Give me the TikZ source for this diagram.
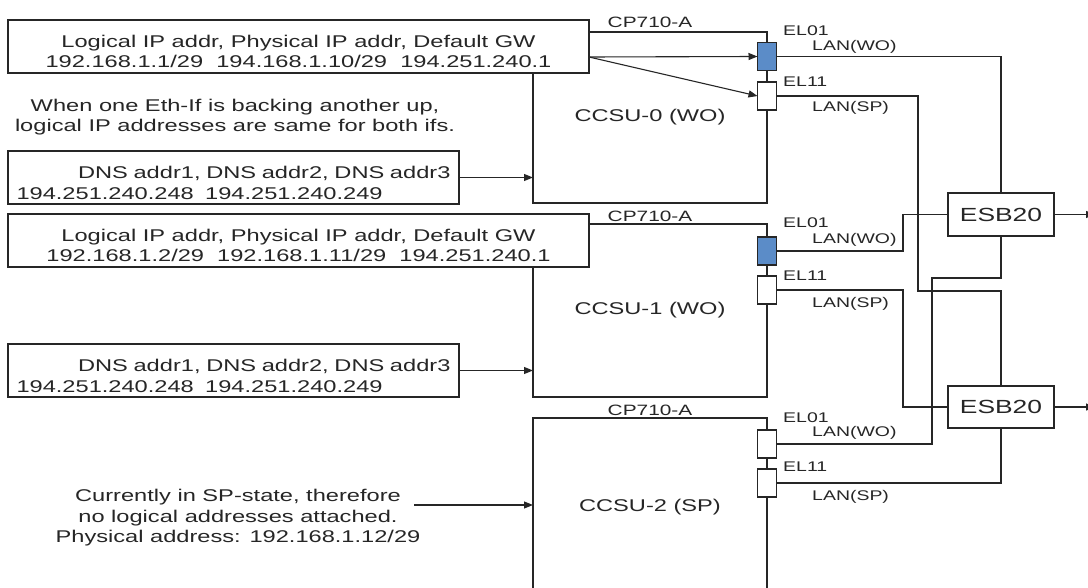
\documentclass[tikz,border=0pt]{standalone}
\usepackage{fontspec}
\setmainfont{Liberation Sans}[FakeStretch=1.39]
\usetikzlibrary{arrows.meta}
\definecolor{elblue}{HTML}{5B8CC8}
\definecolor{ink}{HTML}{262626}
\begin{document}
\begin{tikzpicture}[x=1pt,y=-1pt,
  every node/.style={text=ink},
  ln/.style={draw=ink, line width=1.1pt},
  box/.style={ln, fill=white, inner sep=0pt, outer sep=0pt},
  main/.style={font=\fontsize{17}{20.5}\selectfont},
  small/.style={font=\fontsize{14}{16}\selectfont, inner sep=0pt, anchor=west},
  cplab/.style={font=\fontsize{15}{17}\selectfont, inner sep=0pt},
  elbox/.style={box, minimum width=19pt, minimum height=28pt},
  ccsu/.style={box, main, minimum width=234pt},
  esb/.style={box, font=\fontsize{19}{21}\selectfont, minimum width=106pt},
  addrbox/.style={box, main, minimum height=53pt, minimum width=581pt, text height=43pt, align=center},
  dnsbox/.style={box, main, minimum height=53pt, minimum width=451pt, text width=434pt, text height=23pt, align=left},
  arr/.style={ln, -{Triangle[length=9pt,width=7pt]}},
]
\clip (0,0) rectangle (1088,588);
\fill[white] (0,0) rectangle (1088,588);

% CCSU boxes
\node[ccsu, minimum height=171pt] (c0) at (650,117.5) {CCSU-0 (WO)};
\node[ccsu, minimum height=173pt] (c1) at (650,310.5) {CCSU-1 (WO)};
\node[ccsu, minimum height=178pt] (c2) at (650,507) {CCSU-2 (SP)};

% CP710-A labels
\node[cplab] (cp0) at (650,22) {CP710-A};
\node[cplab] (cp1) at (650,216) {CP710-A};
\node[cplab] (cp2) at (650,410) {CP710-A};

% address boxes
\node[addrbox] (lg0) at (298.5,46.5)
  {Logical IP addr, Physical IP addr, Default GW\\192.168.1.1/29\ \ 194.168.1.10/29\ \ 194.251.240.1};
\node[addrbox] (lg1) at (298.5,240.5)
  {Logical IP addr, Physical IP addr, Default GW\\192.168.1.2/29\ \ 192.168.1.11/29\ \ 194.251.240.1};

\node[dnsbox] (dns0) at (233.5,177.5)
  {\hfill DNS addr1, DNS addr2, DNS addr3\\194.251.240.248\ \ 194.251.240.249};
\node[dnsbox] (dns1) at (233.5,370.5)
  {\hfill DNS addr1, DNS addr2, DNS addr3\\194.251.240.248\ \ 194.251.240.249};

\node[main, align=center, inner sep=0pt] (note0) at (235,117)
  {When one Eth-If is backing another up,\\logical IP addresses are same for both ifs.};
\node[main, align=center, inner sep=0pt] (note2) at (238,518)
  {Currently in SP-state, therefore\\no logical addresses attached.\\Physical address: 192.168.1.12/29};

% Ethernet interfaces
\node[elbox, fill=elblue] (a01) at (767,56.5) {};
\node[elbox] (a11) at (767,96) {};
\node[elbox, fill=elblue] (b01) at (767,251) {};
\node[elbox] (b11) at (767,290) {};
\node[elbox] (c01) at (767,444) {};
\node[elbox] (c11) at (767,483) {};

\node[small] (la01) at (783,31) {EL01};
\node[small] (lw0) at (812,47) {LAN(WO)};
\node[small] (la11) at (783,82) {EL11};
\node[small] (ls0) at (812,108) {LAN(SP)};
\node[small] (lb01) at (783,223) {EL01};
\node[small] (lw1) at (812,240) {LAN(WO)};
\node[small] (lb11) at (783,276) {EL11};
\node[small] (ls1) at (812,304) {LAN(SP)};
\node[small] (lc01) at (783,418) {EL01};
\node[small] (lw2) at (812,433) {LAN(WO)};
\node[small] (lc11) at (783,467) {EL11};
\node[small] (ls2) at (812,497) {LAN(SP)};

% switches
\node[esb, minimum height=43pt] (e1) at (1001,214.5) {ESB20};
\node[esb, minimum height=42pt] (e2) at (1001,407) {ESB20};

% arrows into CCSUs
\coordinate (s0) at (589,57);
\draw[arr] (s0) -- (a01.west);
\draw[arr] (s0) -- (a11.west);
\draw[arr] (dns0.east) -- (dns0.east -| c0.west);
\draw[arr] (dns1.east) -- (dns1.east -| c1.west);
\coordinate (n2) at (414,505);
\draw[arr] (n2) -- (n2 -| c2.west);

% LAN connections
\coordinate (j1) at (918,291);
\coordinate (j2) at (903,251);
\coordinate (j3) at (903,407);
\coordinate (j4) at (932,278);
\draw[ln] (a01.east) -| (e1.north);
\draw[ln] (a11.east) -| (j1) -| (e2.north);
\draw[ln] (e1.west) -| (j2) -- (b01.east);
\draw[ln] (b11.east) -| (j3) -- (e2.west);
\draw[ln] (e1.south) |- (j4) |- (c01.east);
\draw[ln] (c11.east) -| (e2.south);

\coordinate (o1) at (1095,214.5);
\coordinate (o2) at (1095,407);
\draw[arr] (e1.east) -- (o1);
\draw[arr] (e2.east) -- (o2);
\end{tikzpicture}
\end{document}
